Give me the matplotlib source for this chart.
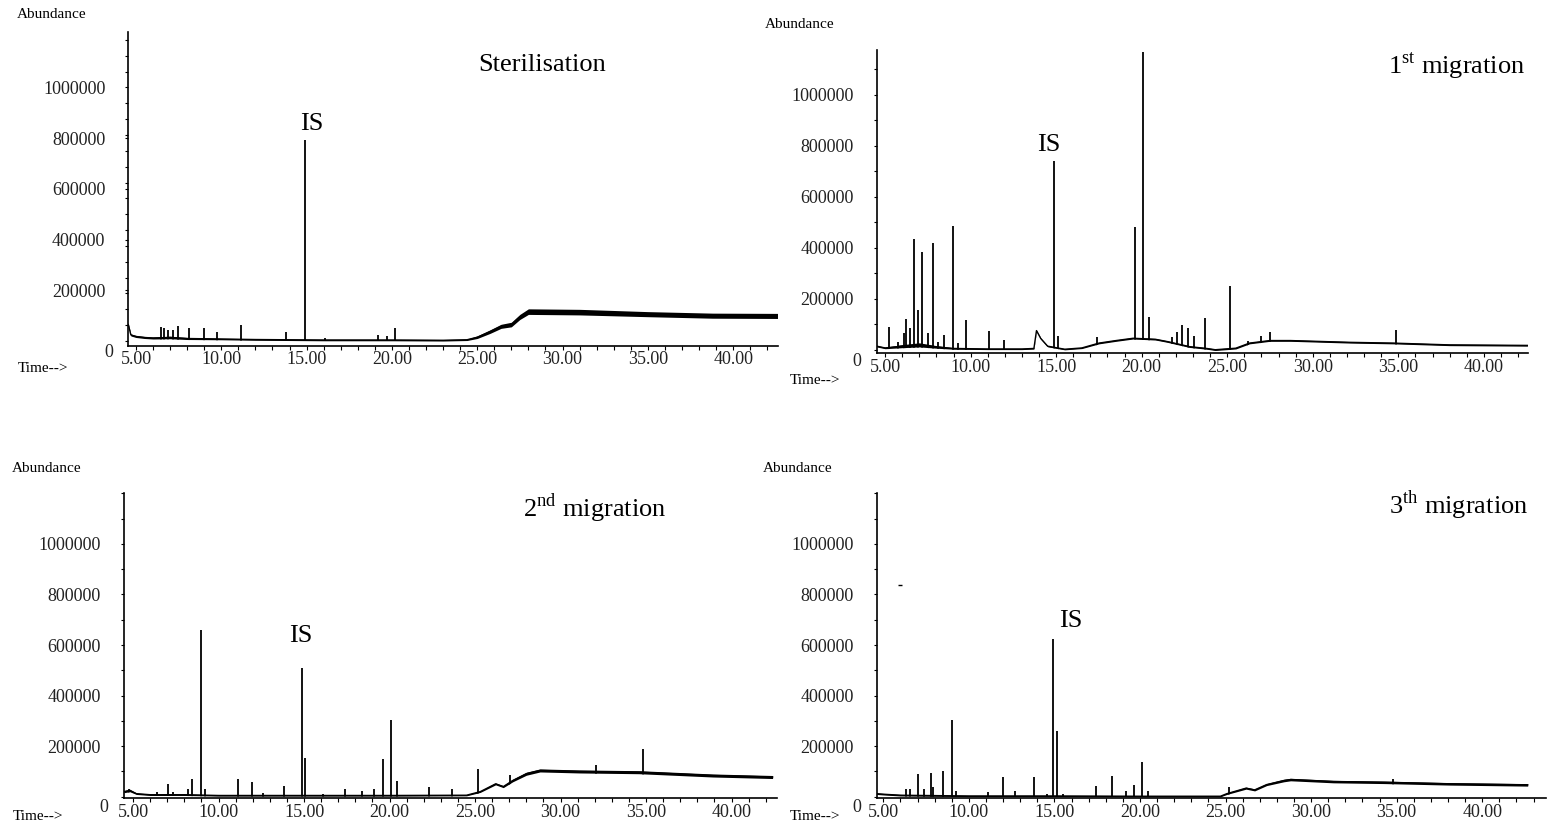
import numpy as np
import matplotlib.pyplot as plt
from matplotlib.ticker import MultipleLocator

plt.rcParams['font.family'] = ['Liberation Serif', 'DejaVu Serif']
plt.rcParams['mathtext.fontset'] = 'custom'
plt.rcParams['mathtext.rm'] = 'Liberation Serif'

W, H = 1547, 835

# --- Sterilisation ---
ster_base_t = [4.55, 4.7, 5.0, 5.5, 6.0, 7.0, 8.0, 10.0, 12.0, 14.0, 16.0, 20.0, 23.0, 24.4,
               25.0, 25.75, 26.4, 27.0, 27.5, 28.0, 31.0, 35.0, 38.8, 42.6]
ster_base_y = [65000, 24000, 18000, 14000, 12000, 14000, 10000, 8000, 6000, 5000, 4000, 4000, 3000, 5000,
               15000, 37000, 58000, 65000, 95000, 116000, 114000, 106000, 100000, 99000]
ster_noise = [4000, 4000, 4000, 4000, 4000, 5000, 4000, 3000, 3000, 3000, 3000, 3000, 3000, 3000,
              5000, 7000, 8000, 9000, 10000, 11000, 11000, 10000, 10000, 10000]
ster_peak_t = [6.45, 6.65, 6.85, 7.15, 7.45, 8.1, 9.0, 9.75, 11.15, 13.8, 14.9, 16.1, 19.2, 19.7, 20.2]
ster_peak_y = [54000, 52000, 44000, 45000, 58000, 50000, 52000, 36000, 62000, 36000, 792000, 12000,
               22000, 18000, 52000]

# --- 1st migration ---
m1_base_t = [4.51, 5.0, 6.0, 7.0, 8.0, 9.0, 11.0, 13.0, 13.7, 13.85, 14.1, 14.5, 15.5, 16.5, 17.5,
             18.5, 19.5, 20.8, 21.5, 22.8, 23.8, 24.3, 25.5, 26.3, 27.5, 28.7, 32.2, 34.7, 38.0, 42.55]
m1_base_y = [15000, 8000, 15000, 20000, 12000, 6000, 4000, 4000, 6000, 76000, 45000, 15000, 3000, 8000,
             27000, 37000, 46000, 42000, 33000, 13000, 6000, 1000, 7000, 27000, 37000, 37000, 30000,
             27000, 20000, 18000]
m1_noise = [3000, 3000, 6000, 8000, 5000, 3000, 2500, 2500, 2500, 2500, 2500, 2500, 2500, 2500, 3000,
            3000, 3000, 3000, 3000, 3000, 3000, 3000, 3000, 3000, 3000, 3000, 3000, 3000, 3000, 3000]
m1_peak_t = [5.25, 5.75, 6.1, 6.23, 6.46, 6.7, 6.9, 7.16, 7.5, 7.8, 8.1, 8.47, 8.96, 9.28, 9.73, 11.1,
             11.96, 14.88, 15.13, 17.4, 19.6, 20.1, 20.45, 21.75, 22.05, 22.34, 22.7, 23.08, 23.7,
             25.16, 26.2, 27.0, 27.5, 34.85]
m1_peak_y = [91000, 33000, 66000, 120000, 86000, 435000, 157000, 383000, 65000, 421000, 33000, 59000,
             487000, 27000, 118000, 76000, 39000, 741000, 56000, 51000, 484000, 1170000, 131000, 52000,
             72000, 98000, 87000, 56000, 124000, 251000, 37000, 53000, 72000, 78000]

# --- 2nd migration ---
m2_base_t = [4.47, 4.8, 5.2, 6.0, 8.0, 10.0, 15.0, 20.0, 24.5, 25.3, 26.2, 26.65, 27.2, 28.0, 28.8,
             31.1, 34.6, 38.9, 42.4]
m2_base_y = [20000, 25000, 12000, 8000, 8000, 5000, 5000, 5000, 6000, 20000, 51000, 40000, 64000, 91000,
             104000, 100000, 97000, 84000, 78000]
m2_noise = [4000, 5000, 3000, 3000, 3000, 2500, 2500, 2500, 2500, 3000, 4000, 4000, 5000, 6000, 6000,
            6000, 6000, 6000, 6000]
m2_peak_t = [4.75, 6.4, 7.06, 7.36, 8.2, 8.43, 8.96, 9.2, 11.12, 11.94, 12.6, 13.8, 14.86, 15.06, 16.1,
             17.4, 18.37, 19.1, 19.6, 20.07, 20.46, 22.33, 23.64, 25.19, 27.05, 32.05, 34.84]
m2_peak_y = [32000, 20000, 51000, 20000, 32000, 71000, 660000, 32000, 71000, 58000, 14000, 41000, 510000,
             154000, 10000, 32000, 24000, 32000, 150000, 305000, 64000, 38000, 32000, 111000, 84000,
             124000, 190000]

# --- 3th migration ---
m3_base_t = [4.61, 5.0, 6.0, 10.0, 15.0, 20.0, 24.7, 25.07, 26.2, 26.7, 27.4, 28.4, 28.8, 31.3, 34.3,
             38.1, 42.66]
m3_base_y = [12000, 10000, 6000, 3000, 3000, 2000, 2000, 12000, 34000, 27000, 48000, 64000, 68000, 60000,
             57000, 51000, 47000]
m3_noise = [3000, 3000, 3000, 2500, 2500, 2500, 2500, 3000, 4000, 4000, 4000, 5000, 5000, 5000, 5000,
            5000, 5000]
m3_peak_t = [6.3, 6.55, 7.05, 7.38, 7.77, 7.92, 8.47, 9.0, 9.25, 11.14, 12.01, 12.7, 13.83, 14.55, 14.9,
             15.13, 15.5, 17.43, 18.38, 19.18, 19.67, 20.14, 20.49, 25.2, 34.77]
m3_peak_y = [32000, 30000, 88000, 32000, 95000, 40000, 101000, 304000, 24000, 20000, 80000, 22000, 78000,
             12000, 625000, 258000, 12000, 42000, 82000, 24000, 45000, 137000, 24000, 38000, 72000]
m3_stray = (5.97, 838000)

x_ticks = [5, 10, 15, 20, 25, 30, 35, 40]
y_ticks = [200000, 400000, 600000, 800000, 1000000]


def px_rect(left, right, top, bottom):
    return [left / W, 1 - bottom / H, (right - left) / W, (bottom - top) / H]


def draw_panel(ax, base_t, base_y, noise, peak_t, peak_y, xlim, ylim, y_minor):
    base_t, base_y, noise = np.array(base_t), np.array(base_y), np.array(noise)

    # spikes go up from zero, the white mask hides whatever falls under the baseline
    ax.vlines(peak_t, 0, peak_y, color='black', lw=1.3, zorder=1)
    ax.fill_between(base_t, ylim[0], base_y - noise, color='white', lw=0, zorder=1.5)
    ax.fill_between(base_t, base_y - noise, base_y + noise, color='black', lw=0, zorder=2)
    ax.plot(base_t, base_y, color='black', lw=1.0, zorder=2)

    ax.set_xlim(*xlim)
    ax.set_ylim(*ylim)
    for side in ['top', 'right']:
        ax.spines[side].set_visible(False)
    for side in ['left', 'bottom']:
        ax.spines[side].set_linewidth(1.2)

    ax.set_xticks(x_ticks)
    ax.set_xticklabels(['%.2f' % t for t in x_ticks])
    ax.xaxis.set_minor_locator(MultipleLocator(1))
    ax.set_yticks(y_ticks)
    ax.set_yticklabels([str(v) for v in y_ticks])
    ax.yaxis.set_minor_locator(MultipleLocator(y_minor))
    ax.tick_params(axis='x', which='both', direction='out', length=3, width=0.8, pad=1,
                   labelsize=13, labelcolor='#222222')
    ax.tick_params(axis='y', which='both', direction='out', length=2.5, width=0.8, pad=14,
                   labelsize=13, labelcolor='#222222')
    ax.annotate('0', xy=(0, 0), xycoords=('axes fraction', 'data'), xytext=(-11, -8),
                textcoords='offset points', ha='right', va='center', fontsize=13, color='#222222')


fig = plt.figure(figsize=(W / 100, H / 100), dpi=100)

ax1 = fig.add_axes(px_rect(128.3, 778, 31.7, 345.6))
draw_panel(ax1, ster_base_t, ster_base_y, ster_noise, ster_peak_t, ster_peak_y,
           (4.55, 42.63), (-18000, 1220000), 62500)
ax1.text(0.637, 0.894, 'Sterilisation', transform=ax1.transAxes, ha='center', va='center', fontsize=19)
ax1.text(15.32, 856000, 'IS', ha='center', va='center', fontsize=19)

ax2 = fig.add_axes(px_rect(876.7, 1528.3, 50, 353.3))
draw_panel(ax2, m1_base_t, m1_base_y, m1_noise, m1_peak_t, m1_peak_y,
           (4.51, 42.6), (-13000, 1176000), 100000)
ax2.text(0.995, 0.95, r'1$^{\mathrm{st}}$ migration', transform=ax2.transAxes, ha='right', va='center',
         fontsize=19)
ax2.text(14.58, 804000, 'IS', ha='center', va='center', fontsize=19)

ax3 = fig.add_axes(px_rect(124, 776.7, 493.3, 798))
draw_panel(ax3, m2_base_t, m2_base_y, m2_noise, m2_peak_t, m2_peak_y,
           (4.47, 42.64), (-5000, 1200000), 100000)
ax3.text(0.7216, 0.952, r'2$^{\mathrm{nd}}$ migration', transform=ax3.transAxes, ha='center',
         va='center', fontsize=19)
ax3.text(14.81, 634000, 'IS', ha='center', va='center', fontsize=19)

ax4 = fig.add_axes(px_rect(876.7, 1546, 493.3, 798))
draw_panel(ax4, m3_base_t, m3_base_y, m3_noise, m3_peak_t, m3_peak_y,
           (4.61, 43.73), (-5000, 1200000), 100000)
ax4.plot([m3_stray[0]], [m3_stray[1]], marker='_', color='black', markersize=3, mew=1)
ax4.text(0.973, 0.962, r'3$^{\mathrm{th}}$ migration', transform=ax4.transAxes, ha='right',
         va='center', fontsize=19)
ax4.text(15.96, 694000, 'IS', ha='center', va='center', fontsize=19)

# axis captions in the old ChemStation style
for x, y in [(17, 15), (765, 25), (12, 469), (763, 469)]:
    fig.text(x / W, 1 - y / H, 'Abundance', ha='left', va='center', fontsize=11)
for x, y in [(18, 368), (790, 380), (13, 817), (790, 817)]:
    fig.text(x / W, 1 - y / H, 'Time-->', ha='left', va='center', fontsize=11)

fig.savefig('out.png', dpi=100)
